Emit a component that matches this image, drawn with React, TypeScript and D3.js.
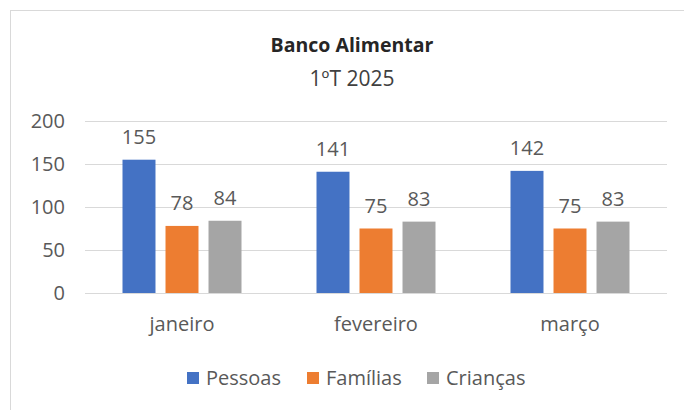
import React from "react";
import * as d3 from "d3";

const months = ["janeiro", "fevereiro", "março"];
const seriesNames = ["Pessoas", "Famílias", "Crianças"];
const pessoas = [155, 141, 142];
const familias = [78, 75, 75];
const criancas = [84, 83, 83];
const yTicks = [0, 50, 100, 150, 200];
const colors = ["#4472C4", "#ED7D31", "#A5A5A5"];

const W = 684;
const H = 410;
const FONT = "'Open Sans', sans-serif";

export default function App() {
  const values = [pessoas, familias, criancas];

  const y = d3.scaleLinear().domain([0, 200]).range([293, 121]);

  // outer band per month, inner band per series
  const x0 = d3
    .scaleBand<string>()
    .domain(months)
    .range([85, 667])
    .paddingInner(0.3866)
    .paddingOuter(0.1933);

  const x1 = d3
    .scaleBand<string>()
    .domain(seriesNames)
    .range([0, x0.bandwidth()])
    .paddingInner(0.233);

  const legendX = d3.scalePoint<string>().domain(seriesNames).range([187, 427]);

  return (
    <svg
      width={W}
      height={H}
      style={{ position: "absolute", left: 0, top: 0, background: "#fff" }}
      fontFamily={FONT}
    >
      <rect x={0} y={0} width={W} height={H} fill="#fff" />
      {/* chart area border, runs off the right and bottom */}
      <rect x={10.5} y={10.5} width={W + 20} height={H + 20} fill="none" stroke="#d9d9d9" />

      <text x={352} y={52} textAnchor="middle" fontSize={19.5} fontWeight="bold" fill="#262626">
        Banco Alimentar
      </text>
      <text x={352} y={86} textAnchor="middle" fontSize={21} fill="#404040">
        1ºT 2025
      </text>

      {/* gridlines + y ticks */}
      {yTicks.map((t) => (
        <g key={t}>
          <line x1={85} x2={667} y1={Math.round(y(t)) + 0.5} y2={Math.round(y(t)) + 0.5} stroke="#d9d9d9" />
          <text x={65} y={y(t)} dy="0.36em" textAnchor="end" fontSize={20} fill="#595959">
            {t}
          </text>
        </g>
      ))}

      {/* bars */}
      {months.map((m, i) => (
        <g key={m} transform={`translate(${x0(m)},0)`}>
          {seriesNames.map((s, j) => {
            const v = values[j][i];
            return (
              <g key={s}>
                <rect
                  x={x1(s)}
                  y={y(v)}
                  width={x1.bandwidth()}
                  height={y(0) - y(v)}
                  fill={colors[j]}
                />
                <text
                  x={(x1(s) ?? 0) + x1.bandwidth() / 2}
                  y={y(v) - 16}
                  textAnchor="middle"
                  fontSize={20}
                  fill="#595959"
                >
                  {v}
                </text>
              </g>
            );
          })}
          <text x={x0.bandwidth() / 2} y={331} textAnchor="middle" fontSize={20} fill="#595959">
            {m}
          </text>
        </g>
      ))}

      {/* legend */}
      {seriesNames.map((s, j) => (
        <g key={s} transform={`translate(${legendX(s)},0)`}>
          <rect x={0} y={372} width={12} height={12} fill={colors[j]} />
          <text x={19} y={385} fontSize={20} fill="#595959">
            {s}
          </text>
        </g>
      ))}
    </svg>
  );
}
